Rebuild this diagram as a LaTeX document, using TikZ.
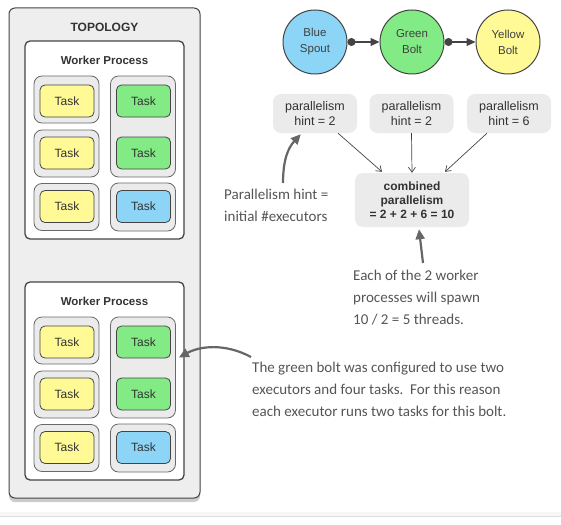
\documentclass[tikz,border=0pt]{standalone}
\usepackage{fontspec}
\setmainfont{Liberation Sans}
\newfontfamily\handfont{Carlito}
\usetikzlibrary{calc,arrows.meta,shadows}
\definecolor{spoutblue}{HTML}{8DD5F7}
\definecolor{boltgreen}{HTML}{82EB85}
\definecolor{boltyellow}{HTML}{FFFA96}
\definecolor{boxgray}{HTML}{EEEEEE}
\definecolor{execgray}{HTML}{EBEBEB}
\definecolor{linegray}{HTML}{444444}
\definecolor{notegray}{HTML}{555555}
\tikzset{
  task/.style={draw=linegray, line width=0.8pt, rounded corners=5pt, minimum width=54pt, minimum height=32pt, font=\fontsize{12}{13}\selectfont, text=black!80},
  executor/.style={draw=linegray!80, line width=0.8pt, fill=execgray, rounded corners=8pt, minimum width=65pt},
  comp/.style={circle, draw=linegray, line width=1pt, minimum size=64pt, align=center, font=\fontsize{11.5}{16}\selectfont, text=black!75},
  hint/.style={fill=execgray, rounded corners=8pt, minimum width=84pt, minimum height=39pt, align=center, font=\fontsize{12.5}{15}\selectfont, text=black!80},
  note/.style={align=left, font=\handfont\fontsize{15}{22}\selectfont, text=notegray, inner sep=0pt, anchor=west},
  stream/.style={line width=1.2pt, draw=linegray, {Circle[length=8pt]}-{Triangle[length=9pt,width=8pt]}},
  sumarrow/.style={line width=0.7pt, draw=linegray, -{Straight Barb[length=5pt,width=7pt]}},
  notearrow/.style={line width=2.2pt, draw=black!60, -{Triangle[length=10pt,width=9pt]}},
}
\begin{document}
\begin{tikzpicture}[x=1pt,y=-1pt]
  \useasboundingbox (0,0) rectangle (561,524);
  % page edge at the bottom
  \fill[gray!6] (0,512) rectangle (561,516);
  \draw[gray!25] (0,516) -- (561,516);
  % the topology
  \node[draw=linegray, fill=boxgray, rounded corners=6pt, line width=1pt, minimum width=191pt, minimum height=490pt,
        drop shadow={shadow xshift=0pt, shadow yshift=-4pt, opacity=0.4}] (topo) at (104.5,253) {};
  \node[font=\bfseries\fontsize{12}{14}\selectfont, text=black!80] (topotitle) at (104.5,27) {TOPOLOGY};
  \foreach \w/\dy in {1/0,2/241}{
    \begin{scope}[shift={(0,\dy)}]
      \node[draw=linegray, fill=white, rounded corners=5pt, line width=1.3pt, minimum width=159pt, minimum height=198pt] (wp\w) at (104.5,140) {};
      \node[font=\bfseries\fontsize{11.5}{14}\selectfont, text=black!80] (wptitle\w) at (104.5,60) {Worker Process};
      % executors
      \node[executor, minimum height=47pt] (exa\w) at (66.5,99.5) {};
      \node[executor, minimum height=47pt] (exb\w) at (66.5,153.5) {};
      \node[executor, minimum height=47pt] (exc\w) at (66.5,207) {};
      \node[executor, minimum height=101pt] (exg\w) at (143,126.5) {};
      \node[executor, minimum height=48pt] (exs\w) at (143,207) {};
      % tasks
      \foreach \r/\ty in {1/101,2/153,3/206.5}
        \node[task, fill=boltyellow] (ty\w\r) at (67,\ty) {Task};
      \node[task, fill=boltgreen] (tg\w1) at (143.5,101) {Task};
      \node[task, fill=boltgreen] (tg\w2) at (143.5,153) {Task};
      \node[task, fill=spoutblue] (tb\w) at (143.5,206.5) {Task};
    \end{scope}
  }
  % the components
  \node[comp, fill=spoutblue] (spout) at (315,42) {Blue\\Spout};
  \node[comp, fill=boltgreen] (green) at (412,42) {Green\\Bolt};
  \node[comp, fill=boltyellow] (yellow) at (508,42) {Yellow\\Bolt};
  \draw[stream] (spout.east) -- (green.west);
  \draw[stream] (green.east) -- (yellow.west);
  % hints
  \node[hint] (hint1) at (315,113.5) {parallelism\\hint = 2};
  \node[hint] (hint2) at (411.5,113.5) {parallelism\\hint = 2};
  \node[hint] (hint3) at (509,113.5) {parallelism\\hint = 6};
  \node[hint, minimum width=114pt, minimum height=54pt, font=\bfseries\fontsize{12}{14}\selectfont] (comb) at (412,200) {combined\\parallelism\\= 2 + 2 + 6 = 10};
  \draw[sumarrow] ($(hint1.south)+(23,0)$) -- ($(comb.north)+(-30,-1)$);
  \draw[sumarrow] (hint2.south) -- (comb.north);
  \draw[sumarrow] ($(hint3.south)+(-22,0)$) -- ($(comb.north)+(33,-1)$);
  % notes
  \node[note] (note1) at (224,205) {Parallelism hint =\\initial \#executors};
  \node[note] (note2) at (353,297.5) {Each of the 2 worker\\processes will spawn\\10 / 2 = 5 threads.};
  \node[note] (note3) at (252,389) {The green bolt was configured to use two\\executors and four tasks.\ \ For this reason\\each executor runs two tasks for this bolt.};
  \coordinate (n1tail) at (283,183);
  \coordinate (n2tail) at (423,263);
  \coordinate (n3tail) at (251,357);
  \draw[notearrow] (n1tail) .. controls (283,160) and (288,148) .. ($(hint1.south west)+(28,1)$);
  \draw[notearrow] (n2tail) -- ($(comb.south)+(7,2)$);
  \draw[notearrow] (n3tail) .. controls (225,343) and (200,346) .. ($(exg2.east)+(3,-10)$);
\end{tikzpicture}
\end{document}
